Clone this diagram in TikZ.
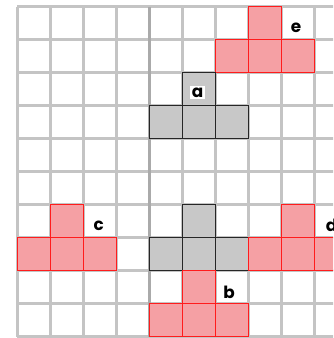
\documentclass[tikz,border=0pt]{standalone}
\usepackage{fontspec}
\setmainfont{Poppins}
\usepackage{tikz}
\usetikzlibrary{positioning}
\usepackage{xcolor}

\definecolor{gridgray}{RGB}{196,196,196}
\definecolor{axisgray}{RGB}{170,170,170}
\definecolor{pinkfill}{RGB}{245,160,164}
\definecolor{redline}{RGB}{255,28,28}
\definecolor{grayfill}{RGB}{200,200,200}

% T-shaped piece: lower left corner of its bottom row at (#1,#2)
\newcommand{\tpiece}[3]{%
  \foreach \dx/\dy in {1/1,0/0,1/0,2/0}
    \draw[#3] (#1+\dx,#2+\dy) rectangle ++(1,1);}

\begin{document}
\begin{tikzpicture}[x=1cm, y=1cm,
    gridline/.style={draw=gridgray, line width=2.2pt},
    redpiece/.style={fill=pinkfill, draw=redline, line width=1.3pt},
    graypiece/.style={fill=grayfill, draw=black!85, line width=1.3pt},
    piecelabel/.style={fill=white, inner sep=1.5pt, font=\fontsize{14.5}{16}\selectfont\bfseries}]
  \useasboundingbox (-0.523,-0.04) rectangle (9.568,10.2);
  \clip (-0.523,-0.04) rectangle (9.568,10.2);
  \fill[white] (-0.523,-0.04) rectangle (9.568,10.2);
  \draw[gridline] (0,0) grid (10,10);
  \draw[draw=axisgray, line width=2.4pt] (4,0) -- (4,10);

  % pieces
  \tpiece{6}{8}{redpiece}
  \tpiece{4}{6}{graypiece}
  \tpiece{0}{2}{redpiece}
  \tpiece{4}{2}{graypiece}
  \tpiece{7}{2}{redpiece}
  \tpiece{4}{0}{redpiece}

  % labels
  \node[piecelabel] (lbla) at (5.46,7.40) {a};
  \node[piecelabel] (lblb) at (6.42,1.34) {b};
  \node[piecelabel] (lblc) at (2.47,3.36) {c};
  \node[piecelabel] (lbld) at (9.52,3.36) {d};
  \node[piecelabel] (lble) at (8.45,9.36) {e};
\end{tikzpicture}
\end{document}
